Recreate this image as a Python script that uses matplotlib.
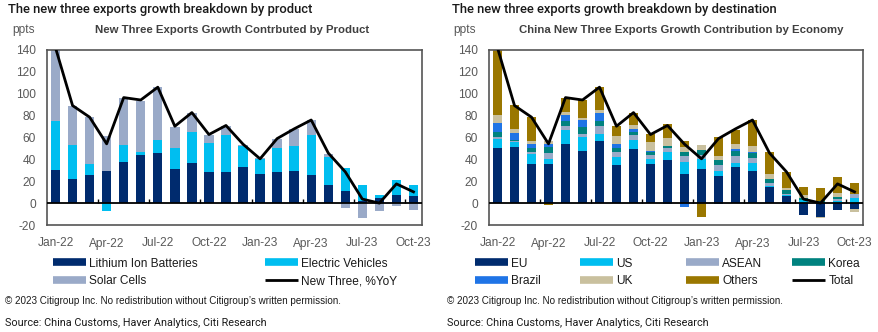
import matplotlib
matplotlib.use("Agg")
import matplotlib.pyplot as plt
from matplotlib.lines import Line2D
import numpy as np

plt.rcParams["font.family"] = ["Liberation Sans Narrow", "Liberation Sans", "DejaVu Sans"]
plt.rcParams["axes.unicode_minus"] = False

# ---------------- data ----------------
months = ["Jan-22", "Feb-22", "Mar-22", "Apr-22", "May-22", "Jun-22", "Jul-22", "Aug-22",
          "Sep-22", "Oct-22", "Nov-22", "Dec-22", "Jan-23", "Feb-23", "Mar-23", "Apr-23",
          "May-23", "Jun-23", "Jul-23", "Aug-23", "Sep-23", "Oct-23"]

# contribution by product, ppts
lithium = [30.4, 22.2, 25.9, 29.5, 38.0, 44.4, 46.0, 31.6, 36.8, 28.6, 28.3, 32.6,
           26.5, 28.9, 29.2, 25.3, 16.4, 11.3, 2.1, 4.6, 7.3, 6.1]
ev = [44.8, 31.1, 10.0, -7.0, 15.3, 2.8, 12.1, 19.2, 28.6, 26.6, 33.8, 19.7,
      14.3, 21.9, 23.4, 37.1, 25.6, 21.0, 14.9, 3.0, 13.4, 10.6]
solar = [66.8, 35.6, 42.6, 32.0, 43.2, 46.5, 47.8, 19.2, 17.1, 7.1, 8.5, 1.0,
         0.5, 7.9, 15.3, 13.4, 3.3, -4.6, -13.7, -7.6, -3.0, -6.7]

# contribution by destination, ppts
eu = [50.2, 51.4, 35.9, 35.9, 54.2, 48.1, 56.9, 35.3, 49.9, 35.6, 39.0, 26.5,
      31.4, 25.2, 32.6, 29.7, 14.3, 6.1, -10.6, -12.8, -6.1, -5.5]
us = [8.2, 4.3, 9.1, 4.0, 12.7, 12.5, 6.4, 7.0, 7.9, 5.2, 7.3, 10.9,
      9.1, 4.5, 3.8, 7.2, 1.5, 0.9, 2.7, 0.0, 1.5, 4.6]
asean = [2.2, 0.9, 1.6, 6.1, 4.0, 3.0, 7.0, 4.6, 4.3, 3.0, 4.5, 6.1,
         3.5, 4.9, 6.7, 4.3, 2.8, 1.5, 0.0, 0.0, 2.2, 3.3]
korea = [4.2, 1.2, 4.2, 5.7, 4.3, 6.4, 4.9, 3.6, 2.7, 2.8, 1.2, 3.1,
         4.6, 4.9, 4.4, 4.4, 3.3, 3.1, 1.9, 1.5, 1.8, 0.0]
brazil = [8.5, 6.1, 3.1, 2.2, 5.4, 6.1, 7.6, 3.7, 3.4, 1.5, -1.0, -3.3,
          0.0, -1.0, 2.1, 1.4, 0.0, -1.2, -0.7, 0.0, -0.6, 0.0]
uk = [7.0, 3.7, 2.7, 2.7, 3.1, 1.8, 2.1, 7.0, 3.3, 8.2, 8.0, 5.1,
      4.3, 3.3, 4.4, 5.4, 4.9, 2.1, 2.4, -1.2, 3.6, -2.4]
others = [59.7, 21.9, 22.2, -1.5, 12.8, 16.1, 21.3, 9.4, 10.7, 6.7, 12.4, 4.9,
          -12.8, 18.0, 12.8, 23.2, 19.5, 14.9, 7.6, 12.2, 14.6, 10.7]

# headline growth, %YoY
total = [142.0, 89.2, 78.6, 54.2, 96.5, 94.3, 106.0, 70.3, 82.8, 62.7, 71.0, 53.9,
         40.5, 59.0, 67.9, 76.0, 45.8, 28.6, 3.7, 0.0, 17.6, 10.3]

product_series = [("Lithium Ion Batteries", lithium, "#002B6E"),
                  ("Electric Vehicles", ev, "#00BEF0"),
                  ("Solar Cells", solar, "#9AAAC8")]
economy_series = [("EU", eu, "#002B6E"),
                  ("US", us, "#00BEF0"),
                  ("ASEAN", asean, "#9AAAC8"),
                  ("Korea", korea, "#00827F"),
                  ("Brazil", brazil, "#1F74E6"),
                  ("UK", uk, "#C9C09E"),
                  ("Others", others, "#9A7700")]

# ---------------- layout ----------------
W, H = 879, 332
fig = plt.figure(figsize=(W / 100, H / 100), dpi=100)


def fx(px):
    return px / W


def fy(py):
    return 1 - py / H


TICK_GREY = "#595959"
TEXT_DARK = "#1a1a1a"
LABEL_SIZE = 8.6


def stacked_bars(ax, series):
    x = np.arange(len(months))
    pos = np.zeros(len(months))
    neg = np.zeros(len(months))
    for name, vals, color in series:
        v = np.asarray(vals, dtype=float)
        base = np.where(v >= 0, pos, neg)
        ax.bar(x, v, bottom=base, width=0.55, color=color, zorder=2, linewidth=0)
        pos = pos + np.clip(v, 0, None)
        neg = neg + np.clip(v, None, 0)


def style_axes(ax):
    n = len(months)
    ax.set_xlim(-0.5, n - 0.5)
    ax.set_ylim(-20, 140)
    ax.set_yticks(range(-20, 141, 20))
    ticks = np.arange(0, n, 3)
    ax.set_xticks(ticks)
    ax.set_xticklabels([months[i] for i in ticks])
    ax.tick_params(axis="both", length=0, labelsize=LABEL_SIZE, labelcolor=TICK_GREY)
    ax.tick_params(axis="x", pad=9)
    ax.tick_params(axis="y", pad=8)
    ax.axhline(0, color="black", lw=1.3, zorder=3)
    ax.vlines(np.arange(2.5, n, 3), 0, 3.5, color="black", lw=1.0, zorder=3)
    for s in ax.spines.values():
        s.set_color("#555555")
        s.set_linewidth(1.2)


ax1 = fig.add_axes([fx(47), fy(225), fx(375), 175 / H])
ax2 = fig.add_axes([fx(489), fy(225), fx(374), 175 / H])

x = np.arange(len(months))
for ax, series in ((ax1, product_series), (ax2, economy_series)):
    stacked_bars(ax, series)
    ax.plot(x, total, color="black", lw=2.0, zorder=4)
    style_axes(ax)

# ---------------- titles ----------------
title_font = ["Roboto", "DejaVu Sans"]
fig.text(fx(8), fy(10), "The new three exports growth breakdown by product",
         fontsize=9.4, family=title_font, fontweight="medium", color=TEXT_DARK,
         va="center", ha="left")
fig.text(fx(452), fy(10), "The new three exports growth breakdown by destination",
         fontsize=9.4, family=title_font, fontweight="medium", color=TEXT_DARK,
         va="center", ha="left")

fig.text(fx(232), fy(30), "New Three Exports Growth Contrbuted by Product",
         fontsize=8.2, fontweight="bold", color="#404040", va="center", ha="center")
fig.text(fx(681), fy(30), "China New Three Exports Growth Contribution by Economy",
         fontsize=8.2, fontweight="bold", color="#404040", va="center", ha="center")

fig.text(fx(12), fy(30), "ppts", fontsize=LABEL_SIZE, color=TICK_GREY, va="center", ha="left")
fig.text(fx(453), fy(30), "ppts", fontsize=LABEL_SIZE, color=TICK_GREY, va="center", ha="left")

# ---------------- legends ----------------
def bar_handle(color):
    return Line2D([], [], color=color, lw=5.5, solid_capstyle="butt")


def line_handle():
    return Line2D([], [], color="black", lw=2.0, solid_capstyle="butt")


def column_legend(x_px, entries):
    handles = [h for h, _ in entries]
    labels = [l for _, l in entries]
    leg = fig.legend(handles, labels, loc="center left",
                     bbox_to_anchor=(fx(x_px), fy(272.5)), frameon=False,
                     fontsize=LABEL_SIZE, handlelength=2.75, handletextpad=0.3,
                     labelspacing=0.5, borderpad=0, borderaxespad=0,
                     labelcolor=TEXT_DARK)
    return leg


column_legend(53, [(bar_handle(product_series[0][2]), product_series[0][0]),
                   (bar_handle(product_series[2][2]), product_series[2][0])])
column_legend(265, [(bar_handle(product_series[1][2]), product_series[1][0]),
                    (line_handle(), "New Three, %YoY")])

col_x = [475, 580, 686, 792]
for i, cx in enumerate(col_x):
    top = economy_series[i]
    if i < 3:
        bottom = (bar_handle(economy_series[i + 4][2]), economy_series[i + 4][0])
    else:
        bottom = (line_handle(), "Total")
    column_legend(cx, [(bar_handle(top[2]), top[0]), bottom])

# ---------------- footnotes ----------------
note = "\u00a9 2023 Citigroup Inc. No redistribution without Citigroup\u2019s written permission."
src = "Source: China Customs, Haver Analytics, Citi Research"
for x0 in (5, 447):
    fig.text(fx(x0), fy(301), note, fontsize=7.1, color=TEXT_DARK, va="center", ha="left")
    fig.text(fx(x0), fy(323), src, fontsize=7.8, family=title_font, color=TEXT_DARK,
             va="center", ha="left")

fig.savefig("out.png", dpi=100)
